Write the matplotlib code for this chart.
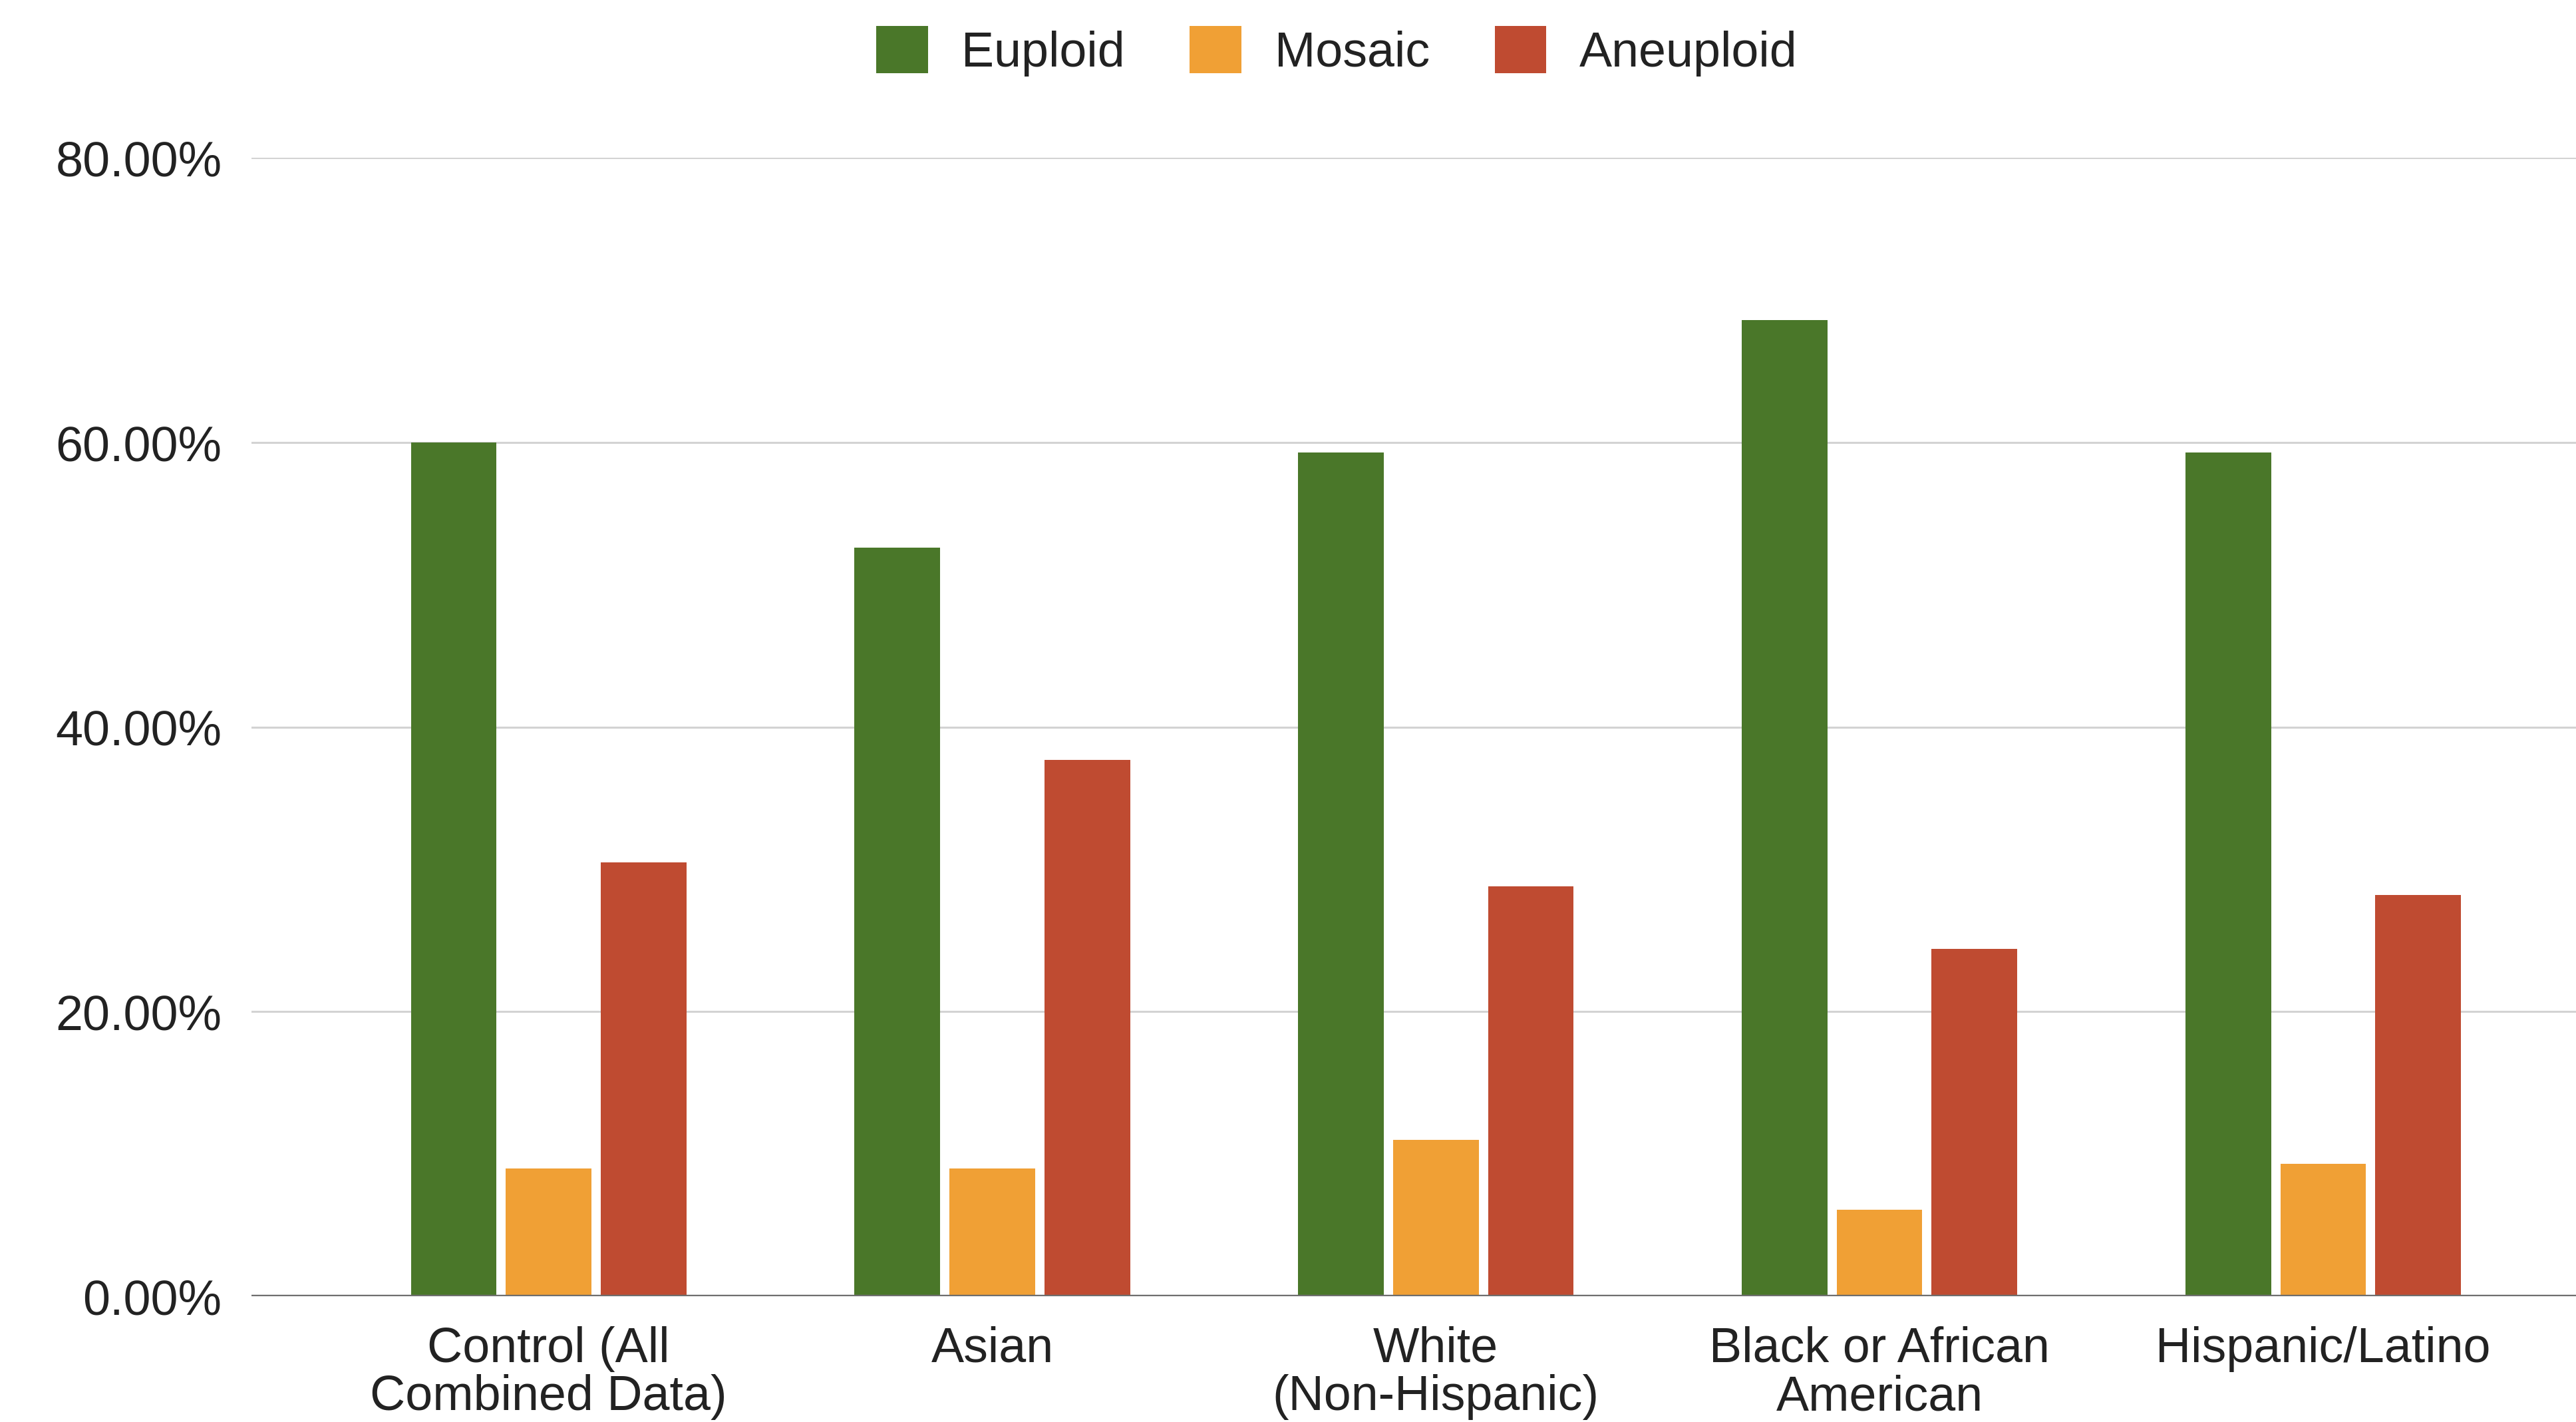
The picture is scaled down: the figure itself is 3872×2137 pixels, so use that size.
import matplotlib
matplotlib.use("Agg")
import matplotlib.pyplot as plt
import numpy as np

plt.rcParams["font.family"] = ["Liberation Sans", "DejaVu Sans"]

groups = ["Control (All\nCombined Data)", "Asian", "White\n(Non-Hispanic)",
          "Black or African\nAmerican", "Hispanic/Latino"]
euploid = [60.0, 52.6, 59.3, 68.6, 59.3]
mosaic = [9.0, 9.0, 11.0, 6.1, 9.3]
aneuploid = [30.5, 37.7, 28.8, 24.4, 28.2]

series = [("Euploid", euploid, "#4a7729"),
          ("Mosaic", mosaic, "#f0a035"),
          ("Aneuploid", aneuploid, "#bf4b31")]

fig = plt.figure(figsize=(38.72, 21.37), dpi=100)
ax = fig.add_axes([0.0976, 0.0884, 0.9024, 0.8005])

x = np.arange(len(groups))
step = 0.214
width = 0.193
for i, (name, vals, color) in enumerate(series):
    ax.bar(x + (i - 1) * step, vals, width, color=color, label=name, zorder=3)

ax.set_xlim(-0.67, 4.57)
ax.set_ylim(0, 80)
ax.set_yticks([0, 20, 40, 60, 80])
ax.set_yticklabels(["%.2f%%" % v for v in [0, 20, 40, 60, 80]])
ax.set_xticks(x)
ax.set_xticklabels(groups, linespacing=1.07)

ax.grid(axis="y", color="#d3d3d3", linewidth=2.2, zorder=0)
for s in ["top", "right", "left", "bottom"]:
    ax.spines[s].set_visible(False)
ax.axhline(0, color="#6f6f6f", linewidth=3.2, zorder=4)

ax.tick_params(axis="both", length=0, labelsize=53, labelcolor="#222222")
ax.tick_params(axis="y", pad=32)
ax.tick_params(axis="x", pad=32)

fig.legend(loc="center", bbox_to_anchor=(0.519, 0.964), ncol=3, frameon=False,
           fontsize=53, handlelength=1.05, handleheight=1.1,
           handletextpad=0.68, columnspacing=1.33, labelcolor="#222222")

fig.savefig("out.png", dpi=100, facecolor="white")
